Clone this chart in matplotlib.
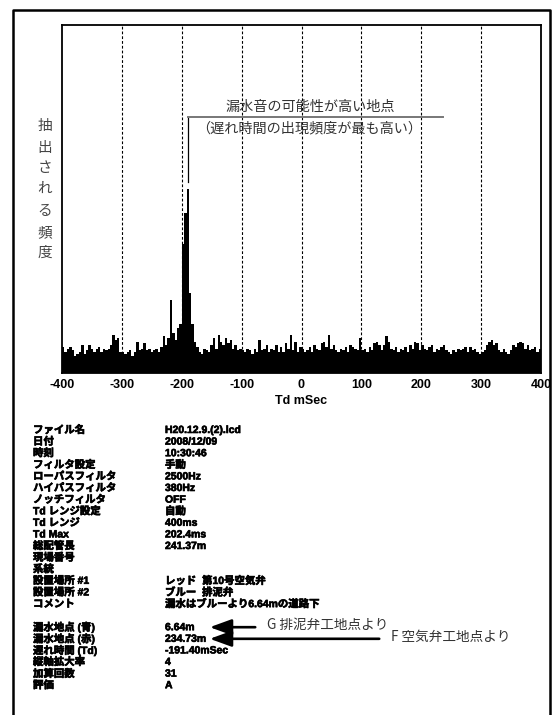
import numpy as np
import matplotlib
matplotlib.use('Agg')
import matplotlib.pyplot as plt
import matplotlib.patheffects as pe

plt.rcParams['axes.unicode_minus'] = False

# correlation histogram, 4 ms bins from -400 to +400 ms (relative frequency, % of full scale)
bin_width = 4
td_min, td_max = -400, 400
counts = [
    # -400 .. -300
    7.5, 6, 7, 7.5, 6.5, 5, 5.5, 6, 8, 5.5, 6.5, 8, 7, 6, 7, 7.5, 6, 7, 6.5, 7, 8, 11, 9.5, 10, 6,
    # -300 .. -200
    6, 5.5, 6, 6.5, 5, 6, 9, 6.5, 7, 8.5, 6.5, 7, 6, 6.5, 7, 6, 7.5, 10.5, 8, 10, 21, 11.5, 9.5, 13, 14,
    # -200 .. -100
    37, 46, 53, 23, 14, 9, 7.5, 6, 5.5, 7, 6.5, 6, 8, 10, 7, 11, 9, 8, 10, 8.5, 9.5, 7, 8, 6.5, 7,
    # -100 .. 0
    6.5, 6, 7, 6.5, 5.5, 7, 6, 9.5, 6.5, 7, 8, 6, 7, 6.5, 8, 6, 7.5, 6, 8.5, 7, 11, 6.5, 9, 6, 7.5,
    # 0 .. 100
    7, 6, 6.5, 7.5, 6, 8, 7, 6.5, 8.5, 9, 7.5, 11, 7, 8, 6.5, 6, 7, 6.5, 7.5, 6, 8, 7.5, 7, 6.5, 10,
    # 100 .. 200
    6.5, 7, 6, 7.5, 6.5, 8.5, 9, 8, 6.5, 8, 10.5, 9, 7, 6.5, 7.5, 6, 7, 6.5, 7.5, 6, 8, 7, 9, 8.5, 6.5,
    # 200 .. 300
    8, 7, 6.5, 7.5, 8, 6, 7, 6.5, 7.5, 8, 6.5, 6, 5.5, 6.5, 6, 7, 6.5, 7, 7.5, 6, 7.5, 6.5, 7, 6, 5.5,
    # 300 .. 400
    6, 6.5, 8, 9, 9.5, 8, 8.5, 6.5, 6, 7, 6, 5.5, 6.5, 8, 7.5, 8.5, 9, 8.5, 7, 8, 6.5, 7, 7.5, 6, 7,
]
xticks = [-400, -300, -200, -100, 0, 100, 200, 300, 400]
peak_td = -190

ylabel_chars = ['抽', '出', 'さ', 'れ', 'る', '頻', '度']
note_line1 = '漏水音の可能性が高い地点'
note_line2 = '（遅れ時間の出現頻度が最も高い）'

info_labels = ['ファイル名', '日付', '時刻', 'フィルタ設定', 'ローパスフィルタ', 'ハイパスフィルタ',
               'ノッチフィルタ', 'Td レンジ設定', 'Td レンジ', 'Td Max', '総配管長', '現場番号',
               '系統', '設置場所 #1', '設置場所 #2', 'コメント', '',
               '漏水地点 (青)', '漏水地点 (赤)', '遅れ時間 (Td)', '縦軸拡大率', '加算回数', '評価']
info_values = ['H20.12.9.(2).lcd', '2008/12/09', '10:30:46', '手動', '2500Hz', '380Hz',
               'OFF', '自動', '400ms', '202.4ms', '241.37m', '', '', 'レッド  第10号空気弁',
               'ブルー  排泥弁', '漏水はブルーより6.64mの道路下', '',
               '6.64m', '234.73m', '-191.40mSec', '4', '31', 'A']
arrow_notes = ['G 排泥弁工地点より', 'F 空気弁工地点より']

W, H = 559, 715
fig = plt.figure(figsize=(W / 100, H / 100), dpi=100)

# outer frame (open at the bottom of the page)
fig.add_artist(plt.Line2D([13 / W, 13 / W, 550 / W, 550 / W],
                          [-0.1, 1 - 10 / H, 1 - 10 / H, -0.1],
                          color='black', lw=1.8, transform=fig.transFigure))

ax_l, ax_r, ax_t, ax_b = 62, 541, 25, 373
ax = fig.add_axes([ax_l / W, 1 - ax_b / H, (ax_r - ax_l) / W, (ax_b - ax_t) / H])

centers = np.arange(td_min, td_max, bin_width) + bin_width / 2
ax.bar(centers, counts, width=bin_width, color='black', linewidth=0, antialiased=False)

for x in xticks[1:-1]:
    ax.axvline(x, color='black', lw=0.8, ls=(0, (2.5, 1.8)), zorder=0)

ax.set_xlim(td_min, td_max)
ax.set_ylim(0, 100)
ax.set_yticks([])
ax.set_xticks(xticks)
ax.set_xticklabels([str(x) for x in xticks], fontsize=9, fontweight='bold', family='Liberation Sans')
ax.tick_params(axis='x', length=0, pad=4)
ax.set_xlabel('Td mSec', fontsize=9, fontweight='bold', family='Liberation Sans', labelpad=3)
for s in ax.spines.values():
    s.set_linewidth(1.3)

# leader from the peak to the note
ax.plot([peak_td, peak_td], [55, 73.5], color='black', lw=0.9)
ax.plot([peak_td, 236], [73.5, 73.5], color='#777777', lw=1.4)
ax.text(15, 74.5, note_line1, ha='center', va='bottom', fontsize=10.2,
        family='Noto Sans CJK JP', color='#333333')
ax.text(12, 70.4, note_line2, ha='center', va='center', fontsize=10.2,
        family='Noto Sans CJK JP', color='#333333')

ylab_y = [126, 148, 168, 189, 211, 233, 253]
for ch, py in zip(ylabel_chars, ylab_y):
    fig.text(45 / W, 1 - py / H, ch, ha='center', va='center', fontsize=10.5,
             family='Noto Sans CJK JP', color='#444444')

# measurement info table
fam = ['Liberation Sans', 'Noto Sans CJK JP']
heavy = [pe.withStroke(linewidth=0.45, foreground='black')]
row0, pitch = 430, 11.6
for i, (lab, val) in enumerate(zip(info_labels, info_values)):
    y = 1 - (row0 + i * pitch) / H
    fig.text(33 / W, y, lab, ha='left', va='center', fontsize=7.5, fontweight='bold',
             family=fam, path_effects=heavy)
    fig.text(165 / W, y, val, ha='left', va='center', fontsize=7.5, fontweight='bold',
             family=fam, path_effects=heavy)

arrow_rows = [17, 18]
arrow_tails = [258, 382]
for row, tail, note in zip(arrow_rows, arrow_tails, arrow_notes):
    y = 1 - (row0 + row * pitch) / H
    fig.add_artist(matplotlib.patches.FancyArrowPatch(
        (tail / W, y), (207 / W, y), transform=fig.transFigure,
        arrowstyle='-|>,head_length=1.1,head_width=0.4', mutation_scale=12,
        lw=1.9, color='black'))
    fig.text((tail + 9) / W, y + 2 / H, note, ha='left', va='center', fontsize=9.8,
             family='Noto Sans CJK JP', color='#333333')

fig.savefig('out.png', dpi=100)
